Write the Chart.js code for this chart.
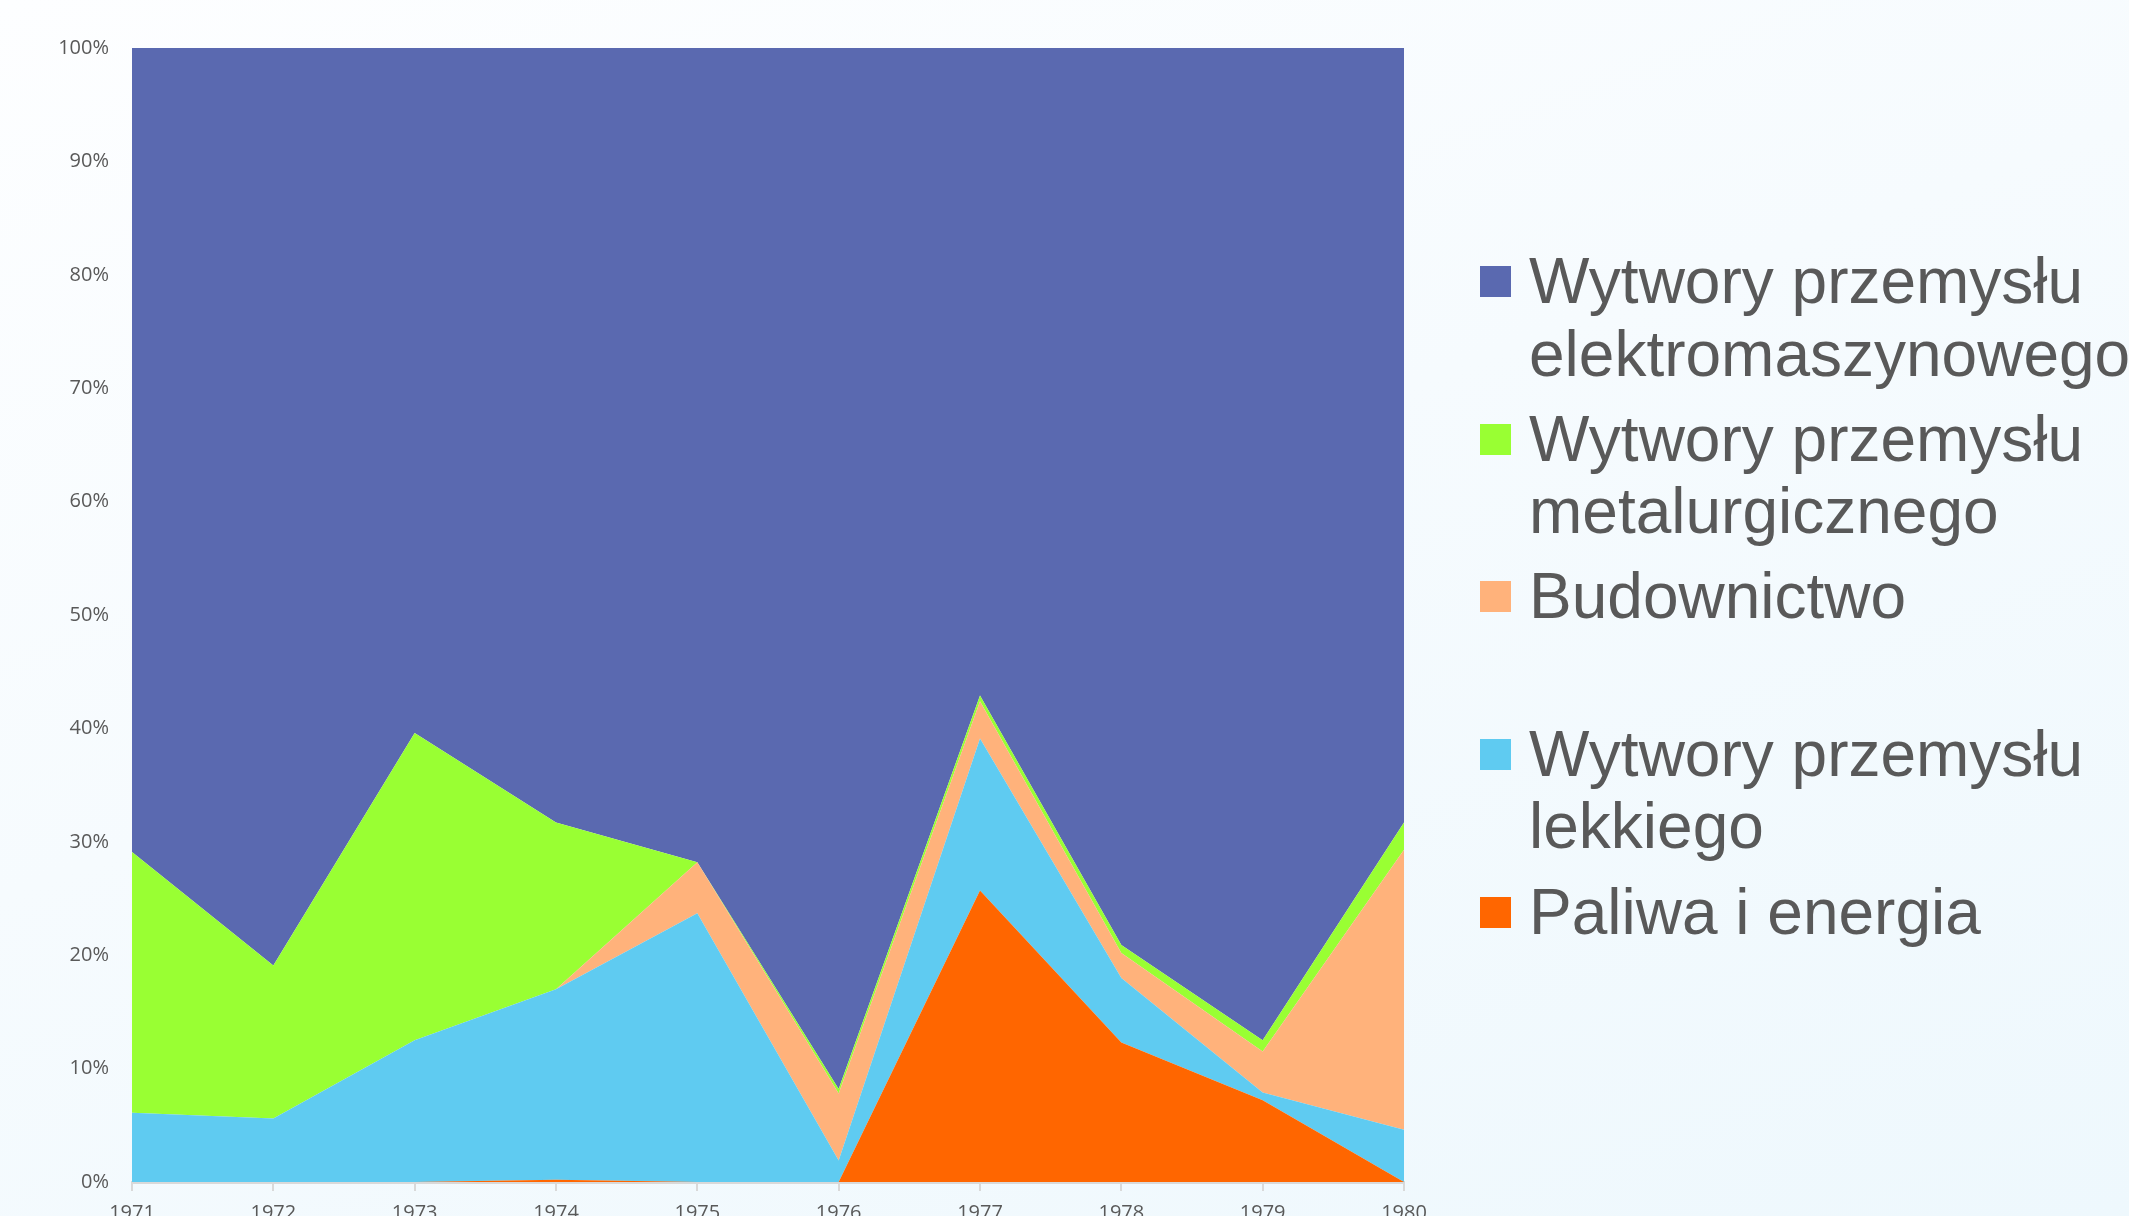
<!DOCTYPE html>
<html>
<head>
<meta charset="utf-8">
<script src="https://cdn.jsdelivr.net/npm/chart.js@4.4.1/dist/chart.umd.min.js"></script>
<style>
  html, body { margin: 0; padding: 0; width: 2129px; height: 1216px; overflow: hidden; }
  body { background: linear-gradient(160deg, #fdfeff 0%, #f6fbfe 45%, #eef8fd 100%); position: relative; }
  #wrap { position: absolute; left: 0; top: 0; width: 1440px; height: 1270px; }
  #legend { position: absolute; left: 1480px; top: 245px; width: 649px; margin: 0; padding: 0; list-style: none;
            font-family: "Liberation Sans", Arial, sans-serif; font-size: 64px; line-height: 72.6px; color: #595959; }
  #legend li { display: flex; align-items: flex-start; min-height: 145px; margin-bottom: 12.5px; }
  #legend li:last-child { min-height: 0; }
  #legend .box { flex: 0 0 31px; height: 31px; margin-top: 21px; margin-right: 18px; }
  #legend .txt { width: 600px; white-space: normal; }
</style>
</head>
<body>
<div id="wrap"><canvas id="chart"></canvas></div>
<ul id="legend"></ul>
<script>
// Lata
const lata = ['1971', '1972', '1973', '1974', '1975', '1976', '1977', '1978', '1979', '1980'];

// Udział w eksporcie (%) - od dołu wykresu
const paliwa        = [0, 0, 0, 0.2, 0, 0, 25.7, 12.3, 7.2, 0];
const lekki         = [6.1, 5.6, 12.5, 16.8, 23.7, 1.9, 13.4, 5.7, 0.7, 4.6];
const budownictwo   = [0, 0, 0, 0, 4.5, 5.9, 3.3, 2.2, 3.6, 24.7];
const metalurgia    = [23.0, 13.5, 27.1, 14.7, 0, 0.4, 0.5, 0.7, 1.0, 2.4];
const elektromasz   = [70.9, 80.9, 60.4, 68.3, 71.8, 91.8, 57.1, 79.1, 87.5, 68.3];

const nazwy = [
    'Paliwa i energia',
    'Wytwory przemysłu lekkiego',
    'Budownictwo',
    'Wytwory przemysłu metalurgicznego',
    'Wytwory przemysłu elektromaszynowego'
];
const kolory = ['#ff6600', '#5fcbf1', '#ffb27b', '#99ff33', '#5a69b0'];
const serie = [paliwa, lekki, budownictwo, metalurgia, elektromasz];

const yTicks = [0, 10, 20, 30, 40, 50, 60, 70, 80, 90, 100];

const PLOT_LEFT = 132, PLOT_TOP = 48, PLOT_BOTTOM = 1182, PLOT_RIGHT = 1404;
const W = 1440, H = 1270;

const ctx = document.getElementById('chart');
ctx.width = W; ctx.height = H;

const datasets = serie.map((d, i) => ({
    label: nazwy[i],
    data: d,
    backgroundColor: kolory[i],
    borderColor: kolory[i],
    borderWidth: 0,
    pointRadius: 0,
    tension: 0,
    fill: i === 0 ? 'origin' : '-1'
}));

new Chart(ctx, {
    type: 'line',
    data: { labels: lata, datasets: datasets },
    options: {
        responsive: false,
        animation: false,
        devicePixelRatio: 1,
        layout: { padding: { left: 0, top: PLOT_TOP, right: W - PLOT_RIGHT, bottom: 0 } },
        plugins: { legend: { display: false }, tooltip: { enabled: false } },
        scales: {
            x: {
                grid: { drawOnChartArea: false, drawTicks: true, tickLength: 9, color: '#d9d9d9', lineWidth: 2 },
                border: { color: '#d9d9d9', width: 3 },
                ticks: { color: '#595959', font: { family: 'Open Sans', size: 20 }, padding: 10, maxRotation: 0 },
                afterFit: (s) => { s.height = H - PLOT_BOTTOM; }
            },
            y: {
                stacked: true,
                min: 0,
                max: 100,
                afterBuildTicks: (s) => { s.ticks = yTicks.map(v => ({ value: v })); },
                grid: { display: false, drawTicks: false },
                border: { display: false },
                ticks: {
                    color: '#595959',
                    font: { family: 'Open Sans', size: 20 },
                    padding: 23,
                    callback: (v) => v + '%'
                },
                afterFit: (s) => { s.width = PLOT_LEFT; }
            }
        }
    }
});

// Legenda
const legend = document.getElementById('legend');
for (let i = serie.length - 1; i >= 0; i--) {
    const li = document.createElement('li');
    const box = document.createElement('span');
    box.className = 'box';
    box.style.background = kolory[i];
    const txt = document.createElement('span');
    txt.className = 'txt';
    txt.textContent = nazwy[i];
    li.appendChild(box);
    li.appendChild(txt);
    legend.appendChild(li);
}
</script>
</body>
</html>
